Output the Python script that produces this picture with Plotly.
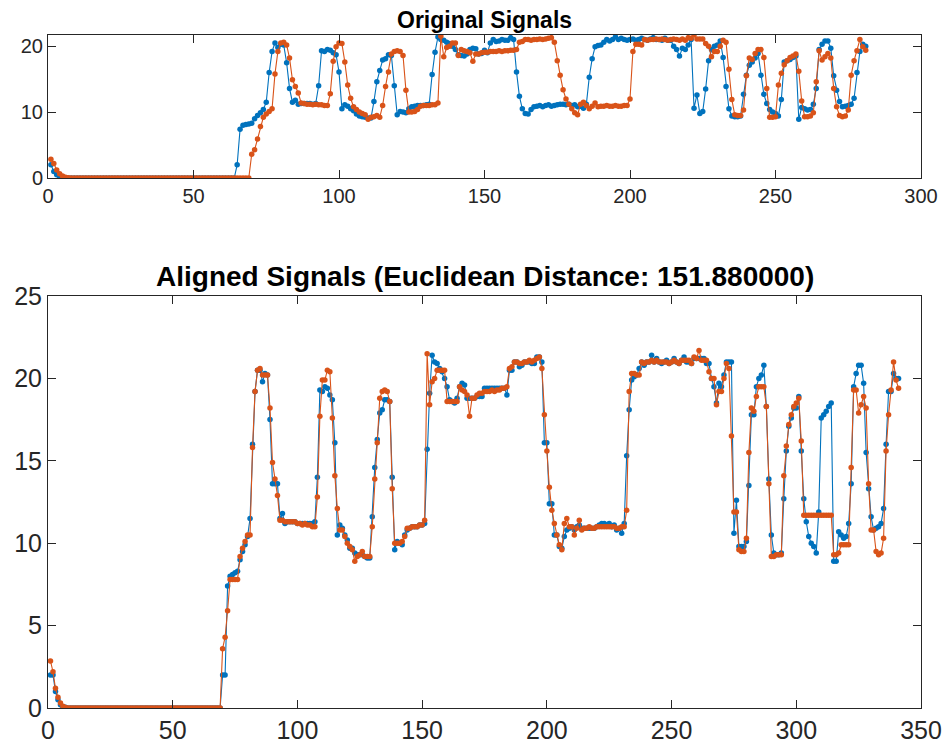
import numpy as np
import plotly.graph_objects as go

# ---- Data (signal 1 = blue, signal 2 = orange), index 1..281 ----
signal_x = [
    2.0, 1.0, 0.5, 0.2, 0.05,
    0, 0, 0, 0, 0, 0, 0, 0, 0, 0, 0, 0, 0, 0, 0, 0, 0, 0, 0, 0, 0, 0, 0, 0, 0,
    0, 0, 0, 0, 0, 0, 0, 0, 0, 0, 0, 0, 0, 0, 0, 0, 0, 0, 0, 0, 0, 0, 0, 0, 0,
    0, 0, 0, 0, 0, 0, 0, 0, 0,
    2.0, 7.4, 8.0, 8.1, 8.2, 8.3, 9.0, 9.5, 9.9, 10.4,
    11.5, 16.0, 19.2, 20.5, 19.8, 20.3, 20.2, 17.5, 13.6, 11.5, 11.8, 11.2,
    11.3, 11.3, 11.3, 11.3, 11.2, 11.3,
    14.0, 19.3, 19.2, 19.5, 19.4, 19.0, 18.7, 16.1,
    10.5, 11.1, 10.9, 10.5, 10.2, 9.7, 9.4, 9.3, 9.2, 9.1, 9.1,
    11.6, 14.6, 16.3, 17.9, 18.1, 18.7, 18.6, 14.0, 9.6,
    10.1, 10.0, 9.9, 10.5, 10.8, 10.9, 11.0, 11.0, 11.0, 11.1, 11.2,
    15.7, 19.1, 21.4, 21.0, 20.9, 20.6, 20.4, 20.0, 19.5,
    18.7, 18.6, 18.5, 18.8, 19.5, 19.7, 19.6, 18.8, 18.9, 19.4,
    19.0, 20.5, 21.0, 20.7, 20.8, 21.0, 20.9, 20.9, 21.3, 21.0,
    16.1, 12.4, 10.5, 9.8, 9.7, 10.4, 10.8, 10.9, 11.0, 10.8,
    11.0, 11.1, 10.9, 11.0, 11.1, 11.2, 11.2, 11.1, 11.2, 11.0, 11.1, 10.8, 10.9, 10.6, 11.2,
    15.3, 18.1, 19.9, 20.1, 20.2, 20.6, 21.0, 20.8, 21.0, 21.4, 21.0, 21.2, 21.0, 20.9,
    21.0, 21.1, 20.9, 21.0, 21.2, 21.0, 20.9, 21.1, 21.3, 21.0, 21.0, 20.9, 21.2, 20.9, 20.9,
    20.0, 19.5, 18.5, 19.7, 19.5, 20.2, 21.0,
    10.6, 12.6, 9.8, 10.1, 13.5, 17.8, 19.5, 20.0, 20.2, 20.8, 18.3, 13.9, 10.5, 9.4, 9.3, 9.3, 9.4,
    12.7, 15.6, 17.1, 17.6, 18.2, 18.9, 15.6, 12.7, 11.3, 10.4, 10.0, 9.8, 9.4, 11.9, 17.6, 17.8, 18.0, 18.3, 18.5,
    8.9, 10.7, 10.5, 10.3, 10.4, 11.2, 13.6, 19.5, 20.3, 20.8, 20.8, 19.7, 15.5, 13.3, 11.6, 10.8, 10.9, 11.0, 11.2, 12.1, 16.0, 19.2, 20.3, 20.0,
]

signal_y = [
    2.85, 2.2, 1.2, 0.65, 0.3, 0.1, 0.03,
    0, 0, 0, 0, 0, 0, 0, 0, 0, 0, 0, 0, 0, 0, 0, 0, 0, 0, 0, 0, 0, 0, 0, 0, 0,
    0, 0, 0, 0, 0, 0, 0, 0, 0, 0, 0, 0, 0, 0, 0, 0, 0, 0, 0, 0, 0, 0, 0, 0, 0,
    0, 0, 0, 0, 0, 0, 0, 0, 0, 0, 0, 0,
    3.6, 4.3, 5.9, 7.8, 9.2, 9.7, 10.1, 10.5,
    15.8, 19.2, 20.5, 20.6, 20.2, 18.2, 14.9, 13.9, 12.9, 11.4,
    11.3, 11.2, 11.2, 11.1, 11.2, 11.1, 11.1, 11.0, 11.0,
    12.8, 17.7, 19.9, 20.5, 20.4, 17.6, 14.1, 12.1,
    10.8, 10.4, 10.0, 9.8, 9.6, 8.9, 9.2, 9.3, 9.5, 9.2, 11.0,
    13.9, 16.1, 18.8, 19.2, 19.3, 19.2, 18.6, 13.3,
    10.0, 10.0, 10.1, 10.4, 10.9, 11.0, 11.0, 11.0, 11.1, 11.1, 11.4,
    21.5, 18.4, 19.8, 20.0, 20.5, 20.5, 18.6, 19.5, 19.3, 19.2, 19.0,
    17.7, 18.8, 18.8, 19.0, 19.1, 19.1, 19.2, 19.2, 19.2, 19.3, 19.2, 19.3, 19.3, 19.4, 19.4, 19.5,
    20.6, 20.7, 21.0, 21.0, 20.9, 21.0, 21.0, 21.1, 21.0, 21.1, 21.2, 21.3, 20.6,
    17.8, 15.6, 13.4, 12.0, 11.2, 10.5, 9.9, 9.6, 11.2, 11.5, 11.0, 10.5, 10.9, 11.4, 10.8, 10.9,
    10.9, 11.0, 10.9, 10.9, 11.0, 10.9, 10.9, 11.0, 11.0, 12.0,
    19.2, 20.3, 20.3, 20.2, 21.0, 20.9, 21.0, 21.0, 21.1, 21.0, 21.1, 21.0, 20.9, 21.0, 21.1, 21.0, 20.9, 21.1, 20.9, 21.3, 21.2,
    21.7, 21.1, 21.1, 21.1, 20.4, 20.0, 18.4, 19.2, 19.2, 20.0, 20.9, 20.6, 16.5, 11.9, 9.6, 9.5, 9.5, 10.3,
    15.5, 18.2, 18.0, 18.9, 19.5, 19.5, 18.3, 13.6, 9.2, 9.2, 9.3, 14.1, 15.9, 17.2, 17.8, 18.3, 18.5, 18.8, 16.2, 11.7, 9.3, 9.3, 9.4, 9.9,
    14.6, 19.3, 17.9, 18.4, 18.9, 18.2, 13.6, 10.8, 9.5, 9.3, 9.4, 10.3, 15.6, 17.8, 19.3, 21.0, 19.9, 19.4,
]

title_top = "Original Signals"
title_bottom = "Aligned Signals (Euclidean Distance: 151.880000)"
x_ticks_top = [0, 50, 100, 150, 200, 250, 300]
y_ticks_top = [0, 10, 20]
x_ticks_bottom = [0, 50, 100, 150, 200, 250, 300, 350]
y_ticks_bottom = [0, 5, 10, 15, 20, 25]

# ---- Dynamic time warping alignment of the two read signals ----
def dtw_path(a, b):
    a = np.asarray(a, float)
    b = np.asarray(b, float)
    n, m = len(a), len(b)
    D = np.full((n + 1, m + 1), np.inf)
    D[0, 0] = 0.0
    for i in range(1, n + 1):
        cost = np.abs(a[i - 1] - b)
        row_prev = D[i - 1]
        row = D[i]
        for j in range(1, m + 1):
            row[j] = cost[j - 1] + min(row_prev[j - 1], row_prev[j], row[j - 1])
    i, j = n, m
    path = [(i - 1, j - 1)]
    while i > 1 or j > 1:
        if i == 1:
            j -= 1
        elif j == 1:
            i -= 1
        else:
            opts = [D[i - 1, j - 1], D[i - 1, j], D[i, j - 1]]
            k = int(np.argmin(opts))
            if k == 0:
                i, j = i - 1, j - 1
            elif k == 1:
                i -= 1
            else:
                j -= 1
        path.append((i - 1, j - 1))
    path.reverse()
    return [p[0] for p in path], [p[1] for p in path]

ix, iy = dtw_path(signal_x, signal_y)
aligned_x = [signal_x[k] for k in ix]
aligned_y = [signal_y[k] for k in iy]

BLUE = "#0072BD"
ORANGE = "#D95319"
AX = "#262626"
FONT = "Liberation Sans, Arial, sans-serif"

fig = go.Figure()

def add_series(xs, ys, color, xa, ya):
    fig.add_trace(go.Scatter(
        x=xs, y=ys, mode="lines+markers",
        line=dict(color=color, width=1.1),
        marker=dict(color=color, size=5.5),
        xaxis=xa, yaxis=ya, showlegend=False, hoverinfo="x+y"))

add_series(list(range(1, len(signal_x) + 1)), signal_x, BLUE, "x", "y")
add_series(list(range(1, len(signal_y) + 1)), signal_y, ORANGE, "x", "y")
idx_a = list(range(1, len(aligned_x) + 1))
add_series(idx_a, aligned_x, BLUE, "x2", "y2")
add_series(idx_a, aligned_y, ORANGE, "x2", "y2")

ymax_top = max(max(signal_x), max(signal_y))

common = dict(showline=True, linecolor=AX, linewidth=1, mirror="ticks",
              ticks="inside", tickcolor=AX, ticklen=8, tickwidth=1,
              showgrid=False, zeroline=False, automargin=False)

H, W = 753, 946
ml, mr, mt, mb = 48, 25, 35, 45
ph = H - mt - mb
top_dom = [(H - mb - 178) / ph, 1.0]
bot_dom = [0.0, (H - mb - 296) / ph]

fig.update_layout(
    width=W, height=H,
    margin=dict(l=ml, r=mr, t=mt, b=mb, autoexpand=False),
    paper_bgcolor="white", plot_bgcolor="white",
    font=dict(family=FONT, color=AX),
    xaxis=dict(domain=[0, 1], anchor="y", range=[0, 300], tickvals=x_ticks_top,
               tickfont=dict(size=20), **common),
    yaxis=dict(domain=top_dom, anchor="x", range=[0, ymax_top], tickvals=y_ticks_top,
               tickfont=dict(size=20), **common),
    xaxis2=dict(domain=[0, 1], anchor="y2", range=[0, 350], tickvals=x_ticks_bottom,
                tickfont=dict(size=25), **common),
    yaxis2=dict(domain=bot_dom, anchor="x2", range=[0, 25], tickvals=y_ticks_bottom,
                tickfont=dict(size=25), **common),
    annotations=[
        dict(text="<b>%s</b>" % title_top, x=0.5, xref="paper", y=1.0, yref="paper",
             yanchor="bottom", yshift=0, showarrow=False,
             font=dict(size=23, color="black", family=FONT)),
        dict(text="<b>%s</b>" % title_bottom, x=0.5, xref="paper", y=bot_dom[1], yref="paper",
             yanchor="bottom", yshift=2, showarrow=False,
             font=dict(size=28, color="black", family=FONT)),
    ],
)

fig.write_html("out.html",
               config={"displayModeBar": False},
               post_script="document.body.style.margin='0';document.body.style.overflow='hidden';")
